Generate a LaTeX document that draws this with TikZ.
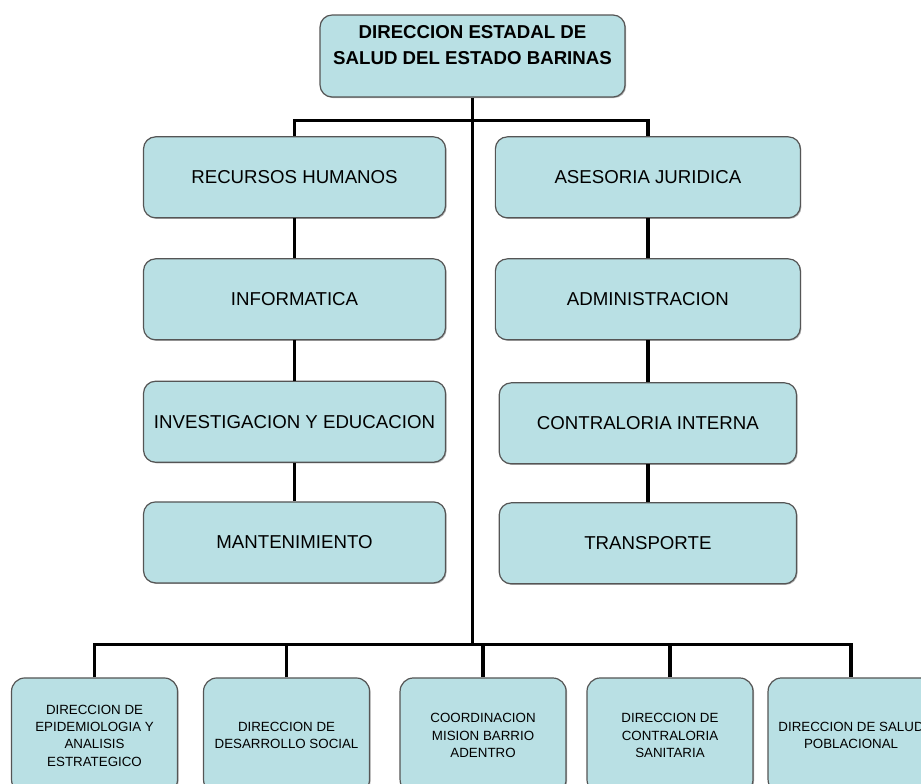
\documentclass[tikz,border=0pt]{standalone}
\usepackage{fontspec}
\setmainfont{Liberation Sans}
\usepackage{tikz}
\usetikzlibrary{calc, positioning, shadows}
\definecolor{caja}{RGB}{185, 224, 228}
\definecolor{borde}{RGB}{85, 85, 85}
\tikzset{
    topnode/.style = {draw=borde, fill=caja, rectangle, rounded corners=9pt, line width=0.9pt,
      minimum width=228.75pt, minimum height=61.5pt, inner sep=0pt, node distance=0em,
      align=center, font=\fontsize{14}{19.5}\selectfont\bfseries,
      drop shadow={shadow xshift=0.8pt, shadow yshift=-0.8pt, fill=black!60}},
    boxnode/.style = {draw=borde, fill=caja, rectangle, rounded corners=9pt, line width=0.9pt,
      minimum width=226.5pt, minimum height=60.75pt, inner sep=0pt, node distance=0em,
      align=center, font=\fontsize{14}{17}\selectfont,
      drop shadow={shadow xshift=0.8pt, shadow yshift=-0.8pt, fill=black!60}},
    smallboxnode/.style = {draw=borde, fill=caja, rectangle, rounded corners=10pt, line width=0.9pt,
      minimum width=124.5pt, minimum height=86.25pt, inner sep=0pt, node distance=0em,
      align=center, font=\fontsize{10}{13}\selectfont,
      drop shadow={shadow xshift=0.8pt, shadow yshift=-0.8pt, fill=black!60}},
    connect/.style = {black, line width=2.5pt}
}

\begin{document}
\begin{tikzpicture}
    \useasboundingbox (0,0) rectangle (690.75pt,-587.25pt);
    \clip (0,0) rectangle (690.75pt,-587.25pt);

    \node[topnode, name=Top] at (354.4pt,-42pt) {DIRECCION ESTADAL DE\\SALUD DEL ESTADO BARINAS\\[-3pt]\mbox{}};

    % columna izquierda
    \node[boxnode, name=RRHH, below of=Top, xshift=-133.5pt, yshift=-91pt] {RECURSOS HUMANOS};
    \node[boxnode, name=Info, below of=RRHH, yshift=-91.5pt] {INFORMATICA};
    \node[boxnode, name=Inves, below of=Info, yshift=-91.8pt] {INVESTIGACION Y EDUCACION};
    \node[boxnode, name=Mant, below of=Inves, yshift=-90.5pt] {MANTENIMIENTO};

    % columna derecha
    \node[boxnode, name=Asesor, below of=Top, xshift=131.5pt, yshift=-91pt, minimum width=228.75pt] {ASESORIA JURIDICA};
    \node[boxnode, name=Admin, below of=Asesor, yshift=-91.5pt, minimum width=228.75pt] {ADMINISTRACION};
    \node[boxnode, name=Contra, below of=Admin, yshift=-93pt, minimum width=223pt] {CONTRALORIA INTERNA};
    \node[boxnode, name=Trans, below of=Contra, yshift=-90pt, minimum width=223pt] {TRANSPORTE};

    % direcciones de abajo
    \node[smallboxnode, name=Epid, below of=Top, xshift=-283.5pt, yshift=-509.6pt] {DIRECCION DE\\EPIDEMIOLOGIA Y\\ANALISIS\\ESTRATEGICO};
    \node[smallboxnode, name=Desa, right of=Epid, xshift=144pt] {DIRECCION DE\\DESARROLLO SOCIAL};
    \node[smallboxnode, name=Barrio, right of=Desa, xshift=147.4pt] {COORDINACION\\MISION BARRIO\\ADENTRO};
    \node[smallboxnode, name=Sanit, right of=Barrio, xshift=140.2pt] {DIRECCION DE\\CONTRALORIA\\SANITARIA};
    \node[smallboxnode, name=Pobla, right of=Sanit, xshift=135.8pt] {DIRECCION DE SALUD\\POBLACIONAL};

    \coordinate (JA) at ($(Top.south)+(0,-17.25pt)$);
    \coordinate (JB) at ($(Top.south)+(0,-410.25pt)$);

    \draw[connect] (Top.south) -- (JB);
    \draw[connect] (RRHH) |- (JA) -| (Asesor);
    \draw[connect] (RRHH) -- (Info);
    \draw[connect] (Info) -- (Inves);
    \draw[connect] (Inves) -- (Mant);
    \draw[connect] (Asesor) -- (Admin);
    \draw[connect] (Admin) -- (Contra);
    \draw[connect] (Contra) -- (Trans);
    \draw[connect] (Epid) |- (JB) -| (Pobla);
    \foreach \n in {Desa, Barrio, Sanit}
        \draw[connect] (\n) -- (\n |- JB);
\end{tikzpicture}
\end{document}
